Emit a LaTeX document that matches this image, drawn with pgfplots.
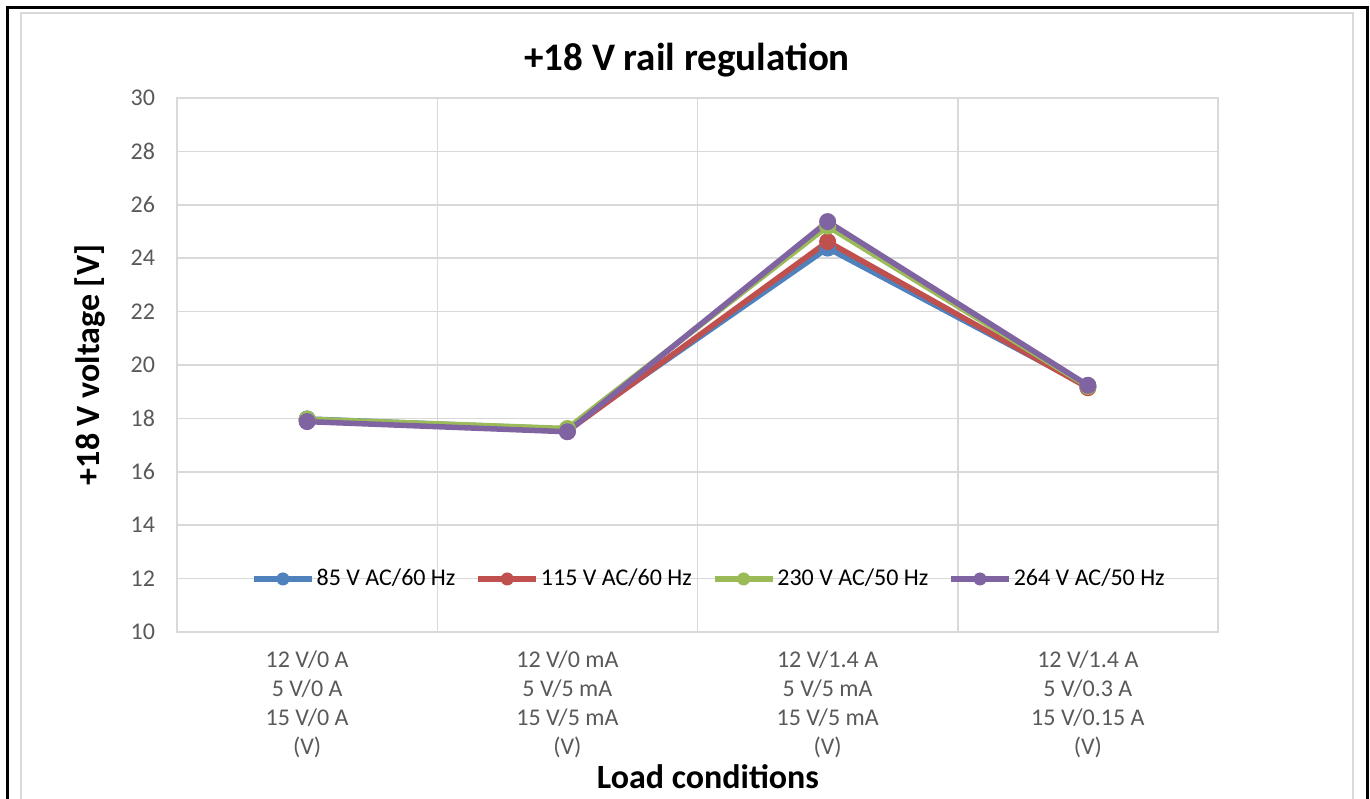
\documentclass[border=0pt]{standalone}
\usepackage{pgfplots}
\pgfplotsset{compat=1.18}
\usepackage{fontspec}
\setmainfont{Carlito}
\definecolor{sA}{HTML}{4F81BD}
\definecolor{sB}{HTML}{C0504D}
\definecolor{sC}{HTML}{9BBB59}
\definecolor{sD}{HTML}{8064A2}
\definecolor{gridc}{HTML}{D9D9D9}
\definecolor{tickc}{HTML}{595959}
\begin{document}
\begin{tikzpicture}
\useasboundingbox (0,0) rectangle (685pt,399pt);
\draw[black, line width=1.5pt] (3.5pt,-10pt) -- (3.5pt,395pt) -- (683.5pt,395pt) -- (683.5pt,-10pt);
\draw[gridc, line width=0.6pt] (10.5pt,-10pt) -- (10.5pt,392.5pt) -- (676.5pt,392.5pt) -- (676.5pt,-10pt);
\begin{axis}[
  at={(88.5pt,83pt)}, anchor=south west,
  scale only axis, width=520.5pt, height=267pt,
  xmin=-0.5, xmax=3.5, ymin=10, ymax=30,
  ytick={10,12,...,30},
  xtick={0,1,2,3},
  xticklabels={{12 V/0 A\\5 V/0 A\\15 V/0 A\\(V)},{12 V/0 mA\\5 V/5 mA\\15 V/5 mA\\(V)},{12 V/1.4 A\\5 V/5 mA\\15 V/5 mA\\(V)},{12 V/1.4 A\\5 V/0.3 A\\15 V/0.15 A\\(V)}},
  minor xtick={0.5,1.5,2.5},
  xminorgrids=true, ymajorgrids=true,
  major tick length=0pt, minor tick length=0pt,
  axis line style={draw=gridc, line width=0.75pt},
  major grid style={draw=gridc, line width=0.75pt},
  minor grid style={draw=gridc, line width=0.75pt},
  /pgf/number format/assume math mode=true,
  xticklabel style={align=center, font=\fontsize{12}{14.5}\selectfont, text=tickc, yshift=-6pt},
  yticklabel style={font=\fontsize{12}{14.5}\selectfont, text=tickc, xshift=-7.5pt},
  title={+18 V rail regulation},
  title style={at={(0.49,1.049)}, anchor=center, font=\fontsize{19.5}{22}\selectfont\bfseries},
  xlabel={Load conditions},
  xlabel style={at={(0.51,-0.2715)}, anchor=center, font=\fontsize{17}{20}\selectfont\bfseries},
  ylabel={+18 V voltage [V]},
  ylabel style={at={(-0.0836,0.5)}, anchor=center, font=\fontsize{17}{20}\selectfont\bfseries},
  legend style={at={(0.511,0.0993)}, anchor=center, legend columns=4, draw=none, fill=none,
    font=\fontsize{12}{14.5}\selectfont,
    nodes={inner xsep=1pt},
    /tikz/every even column/.append style={column sep=9pt}},
  legend image code/.code={\draw[#1] (0pt,0pt) -- (29pt,0pt); \draw[#1, mark size=3pt] plot coordinates {(14.5pt,0pt)};},
  every axis plot/.append style={line width=2.75pt, mark=*, mark size=4pt},
]
\addplot[color=sA, mark options={solid, fill=sA, line width=0.5pt}] coordinates {(0,17.98) (1,17.60) (2,24.38) (3,19.20)};
\addlegendentry{85 V AC/60 Hz}
\addplot[color=sB, mark options={solid, fill=sB, line width=0.5pt}] coordinates {(0,17.93) (1,17.52) (2,24.62) (3,19.15)};
\addlegendentry{115 V AC/60 Hz}
\addplot[color=sC, mark options={solid, fill=sC, line width=0.5pt}] coordinates {(0,17.97) (1,17.62) (2,25.20) (3,19.20)};
\addlegendentry{230 V AC/50 Hz}
\addplot[color=sD, mark options={solid, fill=sD, line width=0.5pt}] coordinates {(0,17.88) (1,17.50) (2,25.37) (3,19.24)};
\addlegendentry{264 V AC/50 Hz}
\end{axis}
\end{tikzpicture}
\end{document}
